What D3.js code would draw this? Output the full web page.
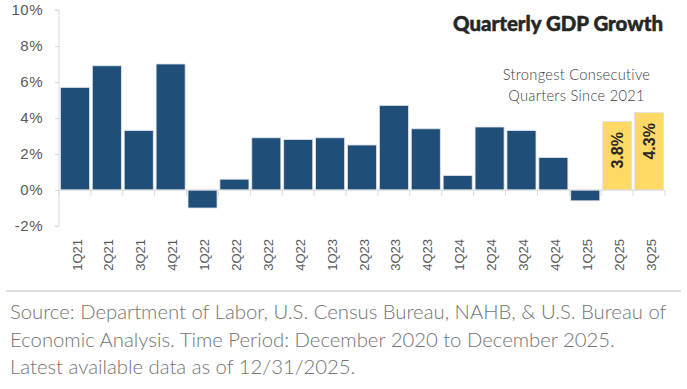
<!DOCTYPE html>
<html><head><meta charset="utf-8">
<script src="https://cdn.jsdelivr.net/npm/d3@7/dist/d3.min.js"></script>
<style>body{margin:0;background:#fff}svg{display:block}</style>
</head><body>
<svg id="c" width="687" height="389"></svg>
<script>
const categories = ["1Q21","2Q21","3Q21","4Q21","1Q22","2Q22","3Q22","4Q22","1Q23","2Q23","3Q23","4Q23","1Q24","2Q24","3Q24","4Q24","1Q25","2Q25","3Q25"];
const values = [5.7,6.9,3.3,7.0,-1.0,0.6,2.9,2.8,2.9,2.5,4.7,3.4,0.8,3.5,3.3,1.8,-0.6,3.8,4.3];
const highlighted = ["2Q25","3Q25"];
const yTicks = [-2,0,2,4,6,8,10];
const title = "Quarterly GDP Growth";
const annotation = ["Strongest Consecutive","Quarters Since 2021"];
const footer = ["Source: Department of Labor, U.S. Census Bureau, NAHB, & U.S. Bureau of",
                "Economic Analysis. Time Period: December 2020 to December 2025.",
                "Latest available data as of 12/31/2025."];

const svg = d3.select("#c");
const x = d3.scaleBand().domain(categories).range([59,665]).paddingInner(0.09).paddingOuter(0.045);
const y = d3.scaleLinear().domain([-2,10]).range([226,10]);
const axisCol = "#d9d9d9";

function fit(sel, base, target){
  const w = sel.node().getComputedTextLength();
  sel.style("font-size",(base*target/w)+"px");
}

// y axis
const ya = svg.append("g").attr("transform","translate(59,0)")
  .call(d3.axisLeft(y).tickValues(yTicks).tickSize(4).tickPadding(12).tickFormat(d=>d+"%"));
ya.select(".domain").attr("stroke",axisCol).attr("d","M-4,"+y(-2)+"H0V"+y(10)+"H-4");
ya.selectAll(".tick line").attr("stroke",axisCol);
ya.selectAll(".tick text").attr("fill","#595959").style("font-family","'Liberation Sans',Arial,sans-serif")
  .style("font-size","15px").style("letter-spacing","0.5px");

// bars
svg.append("g").selectAll("rect").data(categories).join("rect")
  .attr("x",d=>x(d)).attr("width",x.bandwidth())
  .attr("y",(d,i)=>y(Math.max(0,values[i])))
  .attr("height",(d,i)=>Math.abs(y(values[i])-y(0)))
  .attr("fill",d=>highlighted.includes(d)?"#FFD966":"#1F4E79")
  .attr("stroke","#dde3ea").attr("stroke-width",0.8);

// x axis line at zero with boundary ticks
const xa = svg.append("g");
xa.append("line").attr("x1",59).attr("x2",665).attr("y1",y(0)).attr("y2",y(0)).attr("stroke",axisCol).attr("stroke-width",1);
const bounds = categories.map(c=>x(c)-x.step()*x.paddingInner()/2).concat([665]);
bounds[0]=59;
xa.selectAll("line.t").data(bounds).join("line").attr("class","t")
  .attr("x1",d=>d).attr("x2",d=>d).attr("y1",y(0)).attr("y2",y(0)+6).attr("stroke",axisCol);

// x labels
svg.append("g").selectAll("text").data(categories).join("text")
  .attr("transform",d=>`translate(${x(d)+x.bandwidth()/2+2},239) rotate(-90)`)
  .attr("text-anchor","end").attr("dy","0.35em")
  .attr("fill","#595959").style("font-family","'Liberation Sans',Arial,sans-serif").style("font-size","13px")
  .text(d=>d);

// value labels in highlighted bars
svg.append("g").selectAll("text").data(highlighted).join("text")
  .attr("transform",d=>{const i=categories.indexOf(d);return `translate(${x(d)+x.bandwidth()/2},${y(values[i])+10.5}) rotate(-90)`;})
  .attr("text-anchor","end").attr("dy","0.35em")
  .attr("fill","#262626").style("font-family","'Liberation Sans',Arial,sans-serif").style("font-weight","bold").style("font-size","16px")
  .text(d=>values[categories.indexOf(d)].toFixed(1)+"%");

// title
const tt = svg.append("text").attr("x",663).attr("y",31).attr("text-anchor","end")
  .attr("fill","#262626").attr("stroke","#262626").attr("stroke-width",0.5)
  .style("font-family","Lato,sans-serif").style("font-weight","900").style("font-size","18px")
  .text(title);
fit(tt,18,210);

// annotation
const an = svg.append("g").selectAll("text").data(annotation).join("text")
  .attr("x",576.5).attr("y",(d,i)=>80+i*20.5).attr("text-anchor","middle")
  .attr("fill","#404040").style("font-family","Lato,sans-serif").style("font-weight","300")
  .style("font-size","14px").style("letter-spacing","0.3px")
  .text(d=>d);
fit(an,14,148);

// footer
svg.append("line").attr("x1",6).attr("x2",681).attr("y1",291).attr("y2",291).attr("stroke","#bfbfbf").attr("stroke-width",1.2);
const ft = svg.append("g").selectAll("text").data(footer).join("text")
  .attr("x",10).attr("y",(d,i)=>319+i*27.5)
  .attr("fill","#737373").style("font-family","Lato,sans-serif").style("font-weight","300").style("font-size","19px")
  .text(d=>d);
fit(ft,19,657);
</script>
</body></html>
